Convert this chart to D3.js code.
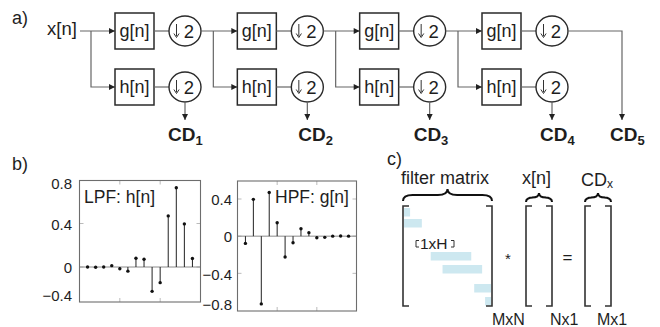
<!DOCTYPE html>
<html><head><meta charset="utf-8">
<script src="https://cdn.jsdelivr.net/npm/d3@7"></script>
<style>body{margin:0;background:#fff}svg{display:block;font-family:"Liberation Sans",Arial,Helvetica,sans-serif}</style>
</head><body><svg id="c" width="660" height="327"></svg>
<script>
// ---------- data ----------
const stages = [1, 2, 3, 4];
const filterNames = ["g[n]", "h[n]"];
const downFactor = "2";
const cdSubs = ["1", "2", "3", "4", "5"];
const lpfValues = [0.0004, -0.0018, 0.0004, 0.0126, -0.0166, -0.0380, 0.0806, 0.0713, -0.2240, -0.1439, 0.4698, 0.7291, 0.3965, 0.0778];
const hpfValues = [-0.0778, 0.3965, -0.7291, 0.4698, 0.1439, -0.2240, -0.0713, 0.0806, 0.0380, -0.0166, -0.0126, 0.0004, 0.0018, 0.0004];
const lpfTicks = [0.8, 0.4, 0, -0.4];
const hpfTicks = [0.4, 0, -0.4, -0.8];
const lpfTitle = "LPF: h[n]";
const hpfTitle = "HPF: g[n]";
// filter-matrix bands: row position (0..10), start col (0..1), end col (0..1)
const bandRow = [0.2, 1.3, 4.6, 5.9, 7.8, 9.1];
const bandStart = [0, 0, 0.307, 0.443, 0.807, 0.932];
const bandEnd = [0.07, 0.205, 0.773, 0.898, 1, 1];

// ---------- drawing ----------
const svg = d3.select("#c");
const TXT = "#1e1e1e", LINE = "#666", BOX = "#2a2a2a";

const defs = svg.append("defs");
defs.append("marker").attr("id", "ah").attr("viewBox", "0 0 10 10")
  .attr("refX", 10).attr("refY", 5).attr("markerWidth", 7).attr("markerHeight", 6)
  .attr("markerUnits", "userSpaceOnUse").attr("orient", "auto")
  .append("path").attr("d", "M0,0 L10,5 L0,10 Z").attr("fill", "#222");

// ===== a) =====
svg.append("text").attr("x", 12).attr("y", 24).attr("font-size", 18).attr("fill", TXT).text("a)");
svg.append("text").attr("x", 47).attr("y", 35).attr("font-size", 18.5).attr("fill", TXT).text("x[n]");

const stageX = d3.scaleLinear().domain([1, 4]).range([115, 482]);
const boxW = 39, boxH = 36, topY = 31, botY = 87, rx = 16, ry = 15;
const rowY = [topY, botY];
const cdLabelDx = [-17, -9, -16, -12, -12];
const ga = svg.append("g");

stages.forEach((s, i) => {
  const L = stageX(s), cx = L + 70;
  const src = i === 0 ? 80 : stageX(stages[i - 1]) + 70 + rx;
  const br = L - 24;
  ga.append("line").attr("x1", src).attr("y1", topY).attr("x2", L).attr("y2", topY)
    .attr("stroke", LINE).attr("stroke-width", 1.2).attr("marker-end", "url(#ah)");
  ga.append("path").attr("d", `M${br},${topY} V${botY} H${L}`).attr("fill", "none")
    .attr("stroke", LINE).attr("stroke-width", 1.2).attr("marker-end", "url(#ah)");
  rowY.forEach((y, r) => {
    ga.append("rect").attr("x", L).attr("y", y - boxH / 2).attr("width", boxW).attr("height", boxH)
      .attr("fill", "#fff").attr("stroke", BOX).attr("stroke-width", 1.5);
    ga.append("text").attr("x", L + boxW / 2).attr("y", y + 5.5).attr("text-anchor", "middle")
      .attr("font-size", 18).attr("fill", TXT).text(filterNames[r]);
    ga.append("line").attr("x1", L + boxW).attr("x2", cx - rx).attr("y1", y).attr("y2", y)
      .attr("stroke", LINE).attr("stroke-width", 1.2);
    ga.append("ellipse").attr("cx", cx).attr("cy", y).attr("rx", rx).attr("ry", ry)
      .attr("fill", "#fff").attr("stroke", BOX).attr("stroke-width", 1.4);
    // thin down arrow
    const ax = cx - 8.5;
    ga.append("line").attr("x1", ax).attr("x2", ax).attr("y1", y - 7).attr("y2", y + 5)
      .attr("stroke", "#333").attr("stroke-width", 1);
    ga.append("path").attr("d", `M${ax - 2.6},${y + 2.5} L${ax},${y + 6.5} L${ax + 2.6},${y + 2.5}`)
      .attr("fill", "none").attr("stroke", "#333").attr("stroke-width", 1);
    ga.append("text").attr("x", cx + 4).attr("y", y + 6.5).attr("text-anchor", "middle")
      .attr("font-size", 18.5).attr("fill", TXT).text(downFactor);
  });
  ga.append("line").attr("x1", cx).attr("y1", botY + ry).attr("x2", cx).attr("y2", 120)
    .attr("stroke", LINE).attr("stroke-width", 1.2).attr("marker-end", "url(#ah)");
  const t = ga.append("text").attr("x", cx + cdLabelDx[i]).attr("y", 141)
    .attr("font-size", 19).attr("font-weight", "bold").attr("fill", TXT);
  t.append("tspan").text("CD");
  t.append("tspan").attr("font-size", 13).attr("dy", 4).text(cdSubs[i]);
});
{
  const lastCx = stageX(stages[stages.length - 1]) + 70;
  const fx = 622;
  ga.append("path").attr("d", `M${lastCx + rx},${topY} H${fx} V120`).attr("fill", "none")
    .attr("stroke", LINE).attr("stroke-width", 1.2).attr("marker-end", "url(#ah)");
  const t = ga.append("text").attr("x", fx + cdLabelDx[4]).attr("y", 141)
    .attr("font-size", 19).attr("font-weight", "bold").attr("fill", TXT);
  t.append("tspan").text("CD");
  t.append("tspan").attr("font-size", 13).attr("dy", 4).text(cdSubs[4]);
}

// ===== b) =====
svg.append("text").attr("x", 12).attr("y", 170).attr("font-size", 18).attr("fill", TXT).text("b)");

function stemPlot(values, ticks, title, box, yScale, labelRight) {
  const g = svg.append("g");
  const x = d3.scaleLinear().domain([0, values.length + 1]).range([box.x0, box.x1]);
  const idx = d3.range(1, values.length + 1);
  const tk = "#bbb";
  [5, 10].forEach(v => {
    g.append("line").attr("x1", x(v)).attr("x2", x(v)).attr("y1", box.y1).attr("y2", box.y1 - 4).attr("stroke", tk);
    g.append("line").attr("x1", x(v)).attr("x2", x(v)).attr("y1", box.y0).attr("y2", box.y0 + 4).attr("stroke", tk);
  });
  ticks.forEach(v => {
    const yy = yScale(v);
    if (yy > box.y0 + 1 && yy < box.y1 - 1) {
      g.append("line").attr("x1", box.x0).attr("x2", box.x0 + 4).attr("y1", yy).attr("y2", yy).attr("stroke", tk);
      g.append("line").attr("x1", box.x1).attr("x2", box.x1 - 4).attr("y1", yy).attr("y2", yy).attr("stroke", tk);
    }
  });
  g.append("line").attr("x1", box.x0).attr("x2", box.x1).attr("y1", yScale(0)).attr("y2", yScale(0))
    .attr("stroke", "#8a8a8a").attr("stroke-width", 1);
  g.append("rect").attr("x", box.x0).attr("y", box.y0).attr("width", box.x1 - box.x0).attr("height", box.y1 - box.y0)
    .attr("fill", "none").attr("stroke", "#6d6d6d").attr("stroke-width", 1.1);
  g.selectAll("line.stem").data(values).enter().append("line").attr("class", "stem")
    .attr("x1", (d, i) => x(idx[i])).attr("x2", (d, i) => x(idx[i]))
    .attr("y1", yScale(0)).attr("y2", d => yScale(d)).attr("stroke", "#222").attr("stroke-width", 1);
  g.selectAll("circle.dot").data(values).enter().append("circle").attr("class", "dot")
    .attr("cx", (d, i) => x(idx[i])).attr("cy", d => yScale(d)).attr("r", 1.7).attr("fill", "#111");
  ticks.forEach(v => {
    let yy = yScale(v) + 1;
    yy = Math.max(box.y0 + 3, Math.min(box.y1 - 6, yy));
    g.append("text").attr("x", labelRight).attr("y", yy).attr("dy", "0.35em").attr("text-anchor", "end")
      .attr("font-size", 15).attr("fill", TXT).text(d3.format("")(v));
  });
  g.append("text").attr("x", box.titleX).attr("y", 203).attr("font-size", 17.5).attr("fill", TXT).text(title);
}

const lpfBox = {x0: 79.5, x1: 200.5, y0: 180.5, y1: 302, titleX: 84};
const lpfY = d3.scaleLinear().domain([0, 0.8]).range([267, 180]);
stemPlot(lpfValues, lpfTicks, lpfTitle, lpfBox, lpfY, 72);

const hpfBox = {x0: 237.5, x1: 356.5, y0: 181, y1: 311, titleX: 275};
const hpfY = d3.scaleLinear().domain([-0.8, 0.4]).range([310.5, 199]);
stemPlot(hpfValues, hpfTicks, hpfTitle, hpfBox, hpfY, 232);

// ===== c) =====
const gc = svg.append("g");
gc.append("text").attr("x", 387).attr("y", 165).attr("font-size", 18).attr("fill", TXT).text("c)");

function hbrace(x1, x2, yTip, yEnd) {
  const xm = (x1 + x2) / 2, ym = (yTip + yEnd) / 2, q = (yEnd - yTip) * 0.8;
  return `M${x1},${yEnd} Q${x1},${ym} ${x1 + q},${ym} L${xm - q},${ym} Q${xm},${ym} ${xm},${yTip} ` +
         `Q${xm},${ym} ${xm + q},${ym} L${x2 - q},${ym} Q${x2},${ym} ${x2},${yEnd}`;
}
function bracketPair(xl, xr, y0, y1, s) {
  gc.append("path").attr("d", `M${xl + s},${y0} H${xl} V${y1} H${xl + s}`).attr("fill", "none")
    .attr("stroke", "#333").attr("stroke-width", 1.6);
  gc.append("path").attr("d", `M${xr - s},${y0} H${xr} V${y1} H${xr - s}`).attr("fill", "none")
    .attr("stroke", "#333").attr("stroke-width", 1.6);
}

const mx = d3.scaleLinear().domain([0, 1]).range([404, 491]);
const my = d3.scaleLinear().domain([0, 10]).range([206, 306]);
bandRow.forEach((r, i) => {
  gc.append("rect").attr("x", mx(bandStart[i])).attr("y", my(r)).attr("width", mx(bandEnd[i]) - mx(bandStart[i]))
    .attr("height", 8.5).attr("fill", "#cde8f0");
});
gc.append("text").attr("x", 401).attr("y", 184).attr("font-size", 18).attr("fill", TXT).text("filter matrix");
gc.append("path").attr("d", hbrace(403, 492, 189, 201)).attr("fill", "none").attr("stroke", "#111").attr("stroke-width", 2);
bracketPair(403, 492, 206, 306, 6);
gc.append("text").attr("x", 420).attr("y", 248.5).attr("font-size", 15.5).attr("fill", TXT).text("1xH");
gc.append("path").attr("d", "M419,240.5 H416 V247 H419").attr("fill", "none").attr("stroke", "#333").attr("stroke-width", 1);
gc.append("path").attr("d", "M451,240.5 H454 V247 H451").attr("fill", "none").attr("stroke", "#333").attr("stroke-width", 1);
gc.append("text").attr("x", 508).attr("y", 264).attr("text-anchor", "middle").attr("font-size", 15).attr("fill", TXT).text("*");
gc.append("text").attr("x", 492).attr("y", 325).attr("font-size", 16).attr("fill", TXT).text("MxN");

gc.append("text").attr("x", 522).attr("y", 184).attr("font-size", 18).attr("fill", TXT).text("x[n]");
gc.append("path").attr("d", hbrace(526, 552, 193, 202)).attr("fill", "none").attr("stroke", "#111").attr("stroke-width", 2);
bracketPair(526, 552, 206, 306, 6);
gc.append("text").attr("x", 567.5).attr("y", 263).attr("text-anchor", "middle").attr("font-size", 17).attr("fill", TXT).text("=");
gc.append("text").attr("x", 550).attr("y", 325).attr("font-size", 16).attr("fill", TXT).text("Nx1");

{
  const t = gc.append("text").attr("x", 581).attr("y", 186).attr("font-size", 18).attr("fill", TXT);
  t.append("tspan").text("CD");
  t.append("tspan").attr("font-size", 12).attr("dy", 2).text("x");
}
gc.append("path").attr("d", hbrace(585, 611, 193, 202)).attr("fill", "none").attr("stroke", "#111").attr("stroke-width", 2);
bracketPair(585, 611, 206, 306, 6);
gc.append("text").attr("x", 597).attr("y", 325).attr("font-size", 16).attr("fill", TXT).text("Mx1");
</script>
</body></html>
